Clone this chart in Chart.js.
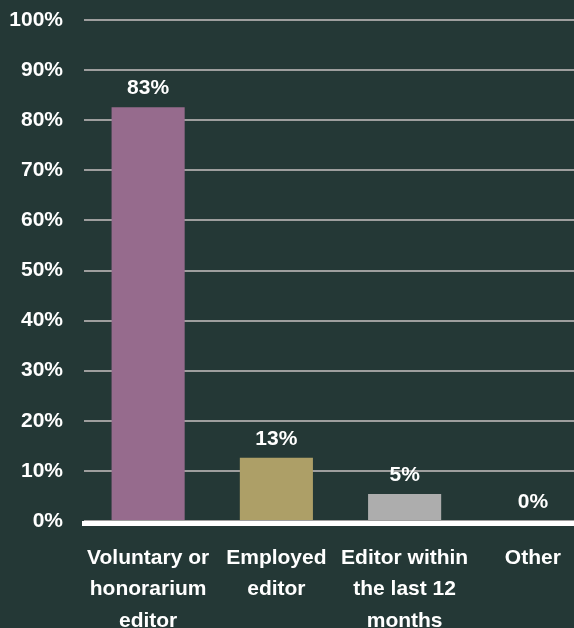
<!DOCTYPE html>
<html>
<head>
<meta charset="utf-8">
<script src="https://cdn.jsdelivr.net/npm/chart.js@4"></script>
<style>
  html, body { margin: 0; padding: 0; background: #243836; overflow: hidden; }
  /* plot runs a little past the right edge of the window, as in the source */
  #wrap { width: 597px; height: 628px; position: relative; }
</style>
</head>
<body>
<div id="wrap"><canvas id="roleChart"></canvas></div>
<script>
// Chart data
const categories = [
    ['Voluntary or', 'honorarium', 'editor'],
    ['Employed', 'editor'],
    ['Editor within', 'the last 12', 'months'],
    ['Other']
];
const shares = [82.6, 12.6, 5.4, 0];
const barColors = ['#966b8d', '#ad9f67', '#adadad', '#adadad'];
const yTicks = [0, 10, 20, 30, 40, 50, 60, 70, 80, 90, 100];

const FONT = '"Liberation Sans", Arial, sans-serif';

// Value labels over each bar
const valueLabels = {
    id: 'valueLabels',
    afterDatasetsDraw(chart) {
        const ctx = chart.ctx;
        const meta = chart.getDatasetMeta(0);
        ctx.save();
        ctx.font = 'bold 21px ' + FONT;
        ctx.fillStyle = '#ffffff';
        ctx.textAlign = 'center';
        ctx.textBaseline = 'middle';
        meta.data.forEach((bar, i) => {
            ctx.fillText(Math.round(shares[i]) + '%', bar.x, bar.y - 19);
        });
        ctx.restore();
    }
};

// White base line under the bars
const baseLine = {
    id: 'baseLine',
    afterDatasetsDraw(chart) {
        const { ctx, chartArea } = chart;
        ctx.save();
        ctx.strokeStyle = '#ffffff';
        ctx.lineWidth = 5;
        ctx.beginPath();
        ctx.moveTo(chartArea.left - 2, chartArea.bottom + 2.5);
        ctx.lineTo(chartArea.right, chartArea.bottom + 2.5);
        ctx.stroke();
        ctx.restore();
    }
};

const ctx = document.getElementById('roleChart').getContext('2d');
const roleChart = new Chart(ctx, {
    type: 'bar',
    data: {
        labels: categories,
        datasets: [{
            data: shares,
            backgroundColor: barColors,
            borderWidth: 0,
            categoryPercentage: 1,
            barPercentage: 0.57
        }]
    },
    options: {
        responsive: true,
        maintainAspectRatio: false,
        animation: false,
        layout: { padding: 0 },
        plugins: {
            legend: { display: false },
            tooltip: { enabled: false }
        },
        scales: {
            x: {
                grid: { display: false },
                border: { display: false },
                ticks: {
                    color: '#ffffff',
                    font: { family: FONT, size: 21, weight: 'bold', lineHeight: 1.5 },
                    maxRotation: 0,
                    autoSkip: false,
                    padding: 13
                },
                afterFit(scale) { scale.height = 107; }
            },
            y: {
                min: 0,
                max: 100,
                afterBuildTicks(scale) { scale.ticks = yTicks.map(v => ({ value: v })); },
                grid: { color: '#9e9e9e', lineWidth: 2, drawTicks: false },
                border: { display: false },
                ticks: {
                    color: '#ffffff',
                    font: { family: FONT, size: 21, weight: 'bold' },
                    padding: 21,
                    callback: v => v + '%'
                },
                afterFit(scale) {
                    scale.width = 84;
                    scale.paddingTop = 20;
                    scale.paddingBottom = 0;
                }
            }
        }
    },
    plugins: [valueLabels, baseLine]
});
</script>
</body>
</html>
